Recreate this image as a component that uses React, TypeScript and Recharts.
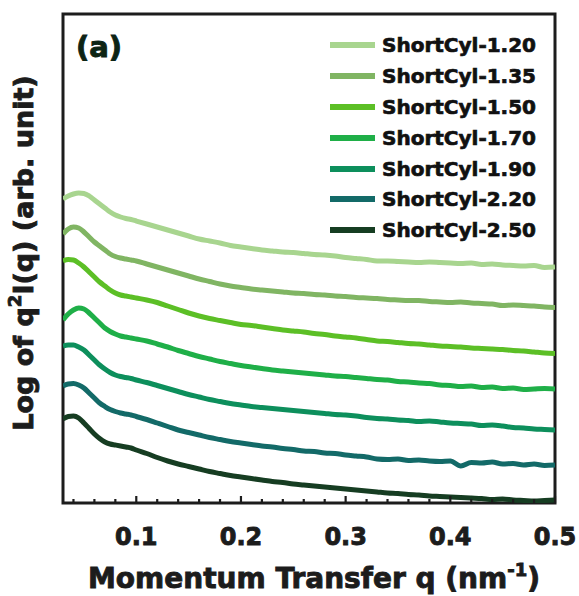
import React from "react";
import { LineChart, Line, XAxis, YAxis, Legend, ReferenceArea, Customized } from "recharts";

const Q = [
  0.03, 0.035, 0.04, 0.045, 0.05, 0.055, 0.06, 0.065, 0.07, 0.075, 0.08, 0.085, 0.09, 0.095, 0.1,
  0.11, 0.12, 0.13, 0.14, 0.15, 0.16, 0.17, 0.18, 0.19, 0.2,
  0.21, 0.22, 0.23, 0.24, 0.25, 0.26, 0.27, 0.28, 0.29, 0.3,
  0.31, 0.32, 0.33, 0.34, 0.35, 0.36, 0.37, 0.38, 0.39, 0.4,
  0.41, 0.42, 0.43, 0.44, 0.45, 0.46, 0.47, 0.48, 0.49, 0.5,
];

const S120 = [
  304, 307, 309, 310, 309.5, 307, 303, 299, 295, 291, 288, 286, 284.5, 283.5, 282,
  279, 276, 273, 270, 267, 264, 262, 260, 257.5, 256,
  254.5, 253, 252, 251, 250.5, 249.5, 248.5, 248, 247, 245.5,
  244.5, 243.5, 242, 242, 241.5, 241, 240.5, 241, 240.5, 240,
  239.5, 240, 238.5, 239, 238, 237.5, 237, 237.5, 235.5, 236,
];
const S135 = [
  269, 274, 276, 275, 271, 266, 261, 257, 253, 249, 246.5, 245, 244, 243, 242,
  239, 236, 233, 230, 227, 224, 221.5, 219, 217, 215.5,
  214, 213, 212, 211, 210, 209.5, 208.5, 208, 207, 206.5,
  205.5, 205, 204.5, 203.5, 203, 202.5, 202.5, 201.5, 201, 200.5,
  201, 200, 199.5, 199, 197.5, 198, 197.5, 197, 196, 195.5,
];
const S150 = [
  242, 243.5, 243, 240, 236, 231, 226, 221, 217, 213, 210, 208, 207, 206, 205,
  203, 200.5, 197, 193.5, 190, 187, 184.5, 182.5, 180.5, 178.5,
  177.5, 176, 174.5, 173, 172, 171, 169.5, 168.5, 167, 166,
  165, 163.5, 162, 161.5, 160.5, 159.5, 159, 158, 157, 156.5,
  156, 155, 154.5, 154, 153.5, 152.5, 152, 151, 150, 149.5,
];
const S170 = [
  183, 189, 193, 195, 194, 190, 185, 180, 175, 171.5, 169, 167, 166, 165, 164,
  162, 159, 156, 152.5, 149.5, 146.5, 144, 141.5, 139.5, 137.5,
  136, 134.5, 133, 132, 131, 130, 129, 128, 127, 126.5,
  125.5, 124.5, 123.5, 123, 121.5, 121, 120, 119.5, 118, 117.5,
  116.5, 117, 115.5, 116, 114.5, 115, 113.5, 114, 114.5, 114,
];
const S190 = [
  157, 158, 158, 156, 153, 148, 143, 138, 134, 130.5, 128, 126.5, 125.5, 124.5, 123,
  120.5, 117.5, 114.5, 111.5, 108.5, 106, 103.5, 101.5, 99.5, 98,
  96.5, 95.5, 94.5, 93.5, 92.5, 91.5, 90.5, 89.5, 88.5, 88,
  87, 85.5, 84.5, 84, 83, 82.5, 81.5, 82, 81, 80,
  79.5, 79, 77.5, 78, 77, 75.5, 75, 74, 73.5, 73,
];
const S220 = [
  117, 119, 119.5, 118, 115, 110, 105, 100, 96.5, 93.5, 91.5, 90, 89, 88, 86.5,
  83.5, 80, 76.5, 73, 70.5, 68, 65.5, 63.5, 61.5, 60,
  58.5, 57, 56, 54.5, 53.5, 52, 51.5, 50, 49.5, 48,
  47, 46, 44, 43.5, 44, 42.5, 43, 42, 41.5, 42,
  37, 40.5, 40, 41, 39, 39.5, 38, 39, 37.5, 38,
];
const S250 = [
  84, 86.5, 87, 85, 80, 74.5, 69, 64.5, 61, 59, 58, 57, 56, 55, 53,
  49.5, 45.5, 42, 39, 36.5, 34, 31.5, 29.5, 27.5, 26,
  24.5, 23, 21.5, 20.5, 19, 18, 17, 16, 15, 14,
  13, 12, 11, 10, 9.5, 8.5, 8, 7, 6.5, 6,
  5.5, 5, 4.5, 3.5, 4, 3, 2.5, 2, 2.5, 3,
];

const SERIES_NAMES = [
  "ShortCyl-1.20",
  "ShortCyl-1.35",
  "ShortCyl-1.50",
  "ShortCyl-1.70",
  "ShortCyl-1.90",
  "ShortCyl-2.20",
  "ShortCyl-2.50",
];
const SERIES_KEYS = ["s120", "s135", "s150", "s170", "s190", "s220", "s250"];
const SERIES_VALUES = [S120, S135, S150, S170, S190, S220, S250];
const SERIES_COLORS = ["#a8d58f", "#80b563", "#5cbf26", "#1faf48", "#0d8f5c", "#136a68", "#163d22"];

const X_TICKS = [
  0.04, 0.06, 0.08, 0.1, 0.12, 0.14, 0.16, 0.18, 0.2, 0.22, 0.24, 0.26, 0.28, 0.3,
  0.32, 0.34, 0.36, 0.38, 0.4, 0.42, 0.44, 0.46, 0.48, 0.5,
];
const X_DOMAIN = [0.03, 0.5];
const Y_DOMAIN = [0, 489];

const data = Q.map((q, i) => {
  const row: any = { q };
  SERIES_KEYS.forEach((k, j) => {
    row[k] = SERIES_VALUES[j][i];
  });
  return row;
});

const FONT = "'DejaVu Sans', 'Liberation Sans', Arial, sans-serif";
const INK = "#1c1c1c";

const isMajor = (v: number) => Math.abs(v * 10 - Math.round(v * 10)) < 1e-6;

const BottomTick = (props: any) => {
  const { x, y, payload } = props;
  const major = isMajor(payload.value);
  return (
    <g>
      <line x1={x} x2={x} y1={y} y2={y - (major ? 7 : 4)} stroke={INK} strokeWidth={2.2} />
      {major && (
        <text
          x={x}
          y={y + 42}
          textAnchor="middle"
          fontFamily={FONT}
          fontWeight="bold"
          fontSize={24}
          fill={INK}
          stroke={INK}
          strokeWidth={0.9}
        >
          {payload.value.toFixed(1)}
        </text>
      )}
    </g>
  );
};

const TopTick = (props: any) => {
  const { x, y, payload } = props;
  const major = isMajor(payload.value);
  return <line x1={x} x2={x} y1={y} y2={y + (major ? 7 : 4)} stroke={INK} strokeWidth={2.2} />;
};

const Titles = () => (
  <g fontFamily={FONT} fontWeight="bold" fill={INK} stroke={INK} strokeWidth={0.9}>
    <text x={314} y={588} textAnchor="middle" fontSize={28}>
      Momentum Transfer q (nm
      <tspan dy={-12} fontSize={18}>-1</tspan>
      <tspan dy={12}>)</tspan>
    </text>
    <text x={33} y={253} textAnchor="middle" fontSize={27} transform="rotate(-90 33 253)">
      Log of q
      <tspan dy={-12} fontSize={18}>2</tspan>
      <tspan dy={12}>I(q) (arb. unit)</tspan>
    </text>
    <text x={76} y={57} fontSize={29} fill="#0d2414" stroke="#0d2414">
      (a)
    </text>
  </g>
);

const LegendBox = () => (
  <div style={{ display: "flex", flexDirection: "column" }}>
    {SERIES_NAMES.map((name, i) => (
      <div key={name} style={{ display: "flex", alignItems: "center", height: 30.8 }}>
        <div style={{ width: 45, height: 6, background: SERIES_COLORS[i], marginRight: 7 }} />
        <span
          style={{
            fontFamily: FONT,
            fontWeight: "bold",
            fontSize: 20,
            lineHeight: "20px",
            color: "#111",
            WebkitTextStroke: "0.7px #111",
            whiteSpace: "nowrap",
          }}
        >
          {name}
        </span>
      </div>
    ))}
  </div>
);

export default function App() {
  return (
    <div style={{ position: "absolute", left: 0, top: 0, width: 579, height: 596, background: "#fff" }}>
      <LineChart width={579} height={596} data={data} margin={{ top: 14, right: 24, bottom: 0, left: 63 }}>
        <XAxis
          dataKey="q"
          type="number"
          domain={X_DOMAIN}
          allowDataOverflow
          ticks={X_TICKS}
          height={93}
          tickSize={0}
          tickMargin={0}
          axisLine={false}
          tickLine={false}
          interval={0}
          tick={<BottomTick />}
        />
        <XAxis
          xAxisId="top"
          orientation="top"
          dataKey="q"
          type="number"
          domain={X_DOMAIN}
          allowDataOverflow
          ticks={X_TICKS}
          height={0}
          tickSize={0}
          tickMargin={0}
          axisLine={false}
          tickLine={false}
          interval={0}
          tick={<TopTick />}
        />
        <YAxis hide type="number" domain={Y_DOMAIN} allowDataOverflow />
        {SERIES_KEYS.map((k, i) => (
          <Line
            key={k}
            dataKey={k}
            name={SERIES_NAMES[i]}
            type="monotone"
            stroke={SERIES_COLORS[i]}
            strokeWidth={5}
            dot={false}
            activeDot={false}
            isAnimationActive={false}
          />
        ))}
        <ReferenceArea
          x1={X_DOMAIN[0]}
          x2={X_DOMAIN[1]}
          y1={Y_DOMAIN[0]}
          y2={Y_DOMAIN[1]}
          fill="none"
          fillOpacity={0}
          stroke={INK}
          strokeWidth={3}
          ifOverflow="visible"
        />
        <Legend
          layout="horizontal"
          verticalAlign="middle"
          align="center"
          wrapperStyle={{ position: "absolute", left: 330, top: 30, width: 240, height: 220 }}
          content={() => <LegendBox />}
        />
        <Customized component={<Titles />} />
      </LineChart>
    </div>
  );
}
